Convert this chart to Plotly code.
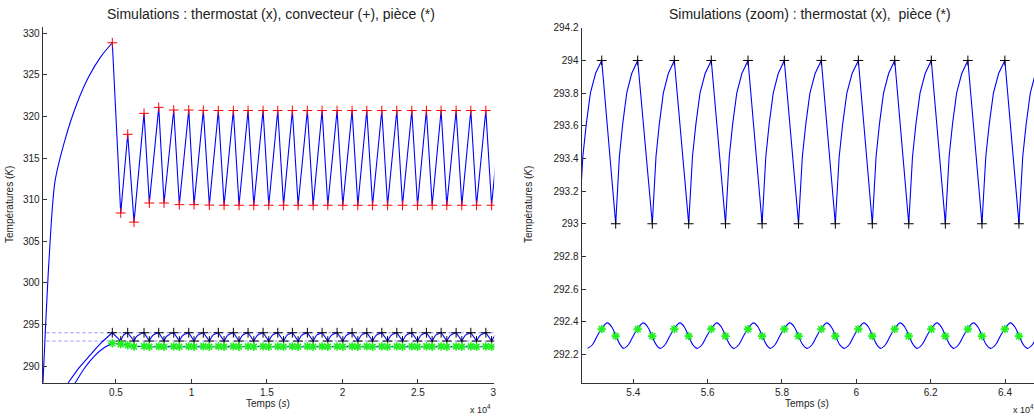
import plotly.graph_objects as go

W, H = 1034, 417

# ---------------- Left plot ----------------
# switching instants (s): thermostat reaches 294 K (heater off) / 293 K (heater on)
left_peak_t = [4757, 5778, 6858, 7832, 8826, 9820, 10787, 11781, 12775, 13749, 14743,
               15717, 16684, 17678, 18652, 19646, 20640, 21614, 22608, 23602, 24596,
               25563, 26537, 27531, 28505, 29499, 30492]
left_trough_t = [5314, 6195, 7209, 8183, 9197, 10171, 11185, 12160, 13150, 14130, 15120,
                 16100, 17065, 18060, 19030, 20025, 21020, 21995, 22990, 23980, 24975,
                 25945, 26915, 27910, 28885, 29880]
# convector temperature at those instants (K)
conv_peak_T = [328.87, 317.86, 320.38, 321.10, 320.78, 320.78, 320.74, 320.72, 320.72,
               320.72, 320.72, 320.72, 320.72, 320.72, 320.72, 320.72, 320.72, 320.72,
               320.72, 320.72, 320.72, 320.72, 320.72, 320.72, 320.72, 320.72, 320.72]
conv_trough_T = [308.40, 307.30, 309.60, 309.60, 309.40, 309.40, 309.35, 309.33, 309.33,
                 309.33, 309.33, 309.33, 309.33, 309.33, 309.33, 309.33, 309.33, 309.33,
                 309.33, 309.33, 309.33, 309.33, 309.33, 309.33, 309.33, 309.33]
# room temperature at those instants (K)
room_peak_T = [292.73, 292.50, 292.38, 292.36, 292.36, 292.36, 292.36, 292.36, 292.36,
               292.36, 292.36, 292.36, 292.36, 292.36, 292.36, 292.36, 292.36, 292.36,
               292.36, 292.36, 292.36, 292.36, 292.36, 292.36, 292.36, 292.36, 292.36]
room_trough_T = [292.63, 292.34, 292.31, 292.31, 292.31, 292.31, 292.31, 292.31, 292.31,
                 292.31, 292.31, 292.31, 292.31, 292.31, 292.31, 292.31, 292.31, 292.31,
                 292.31, 292.31, 292.31, 292.31, 292.31, 292.31, 292.31, 292.31]
therm_high = 294.0
therm_low = 293.0

# initial heating (before the first switching)
conv_init_t = [166, 563, 961, 1623, 2400, 3200, 4000]
conv_init_T = [288.0, 302.7, 312.2, 317.2, 321.5, 324.8, 327.2]
therm_init_t = [1820, 2560, 3300, 4030]
therm_init_T = [287.92, 289.8, 291.33, 292.8]
room_init_t = [2286, 2900, 3520, 4140]
room_init_T = [287.92, 289.7, 291.1, 292.1]

# thermostat rise shape within a heating phase (fraction of phase, temperature)
rise_frac = [0.0, 0.076, 0.167, 0.318, 0.5, 0.727, 1.0]
rise_T = [293.0, 293.2, 293.41, 293.61, 293.8, 293.92, 294.0]

# ---------------- Right plot (zoom) ----------------
right_peak_t = [53150, 54118, 55103, 56098, 57086, 58062, 59058, 60055, 61033, 62017,
                63001, 63996, 64985]
right_trough_t = [52540, 53526, 54511, 55490, 56480, 57465, 58445, 59435, 60430, 61410,
                  62395, 63380, 64375]
room_peak_marker_T = 292.355
room_trough_marker_T = 292.312
# room temperature shape around each thermostat peak (offset s, temperature K)
room_dt = [-379, -250, -120, 0, 150, 270, 385, 500]
room_T = [292.237, 292.259, 292.313, 292.358, 292.393, 292.368, 292.312, 292.258]

left_xticks = [5000, 10000, 15000, 20000, 25000, 30000]
left_xtext = ["0.5", "1", "1.5", "2", "2.5", "3"]
left_yticks = [290, 295, 300, 305, 310, 315, 320, 325, 330]
right_xticks = [54000, 56000, 58000, 60000, 62000, 64000]
right_xtext = ["5.4", "5.6", "5.8", "6", "6.2", "6.4"]
right_yticks = [292.2, 292.4, 292.6, 292.8, 293.0, 293.2, 293.4, 293.6, 293.8, 294.0, 294.2]
right_ytext = ["292.2", "292.4", "292.6", "292.8", "293", "293.2", "293.4", "293.6",
               "293.8", "294", "294.2"]

BLUE = "#0000ff"
RED = "#ff0000"
GREEN = "#22ee22"
BLACK = "#000000"
FONT = "Liberation Sans, Arial, Helvetica, sans-serif"

fig = go.Figure()


def line(x, y, ax, ay, **kw):
    fig.add_trace(go.Scatter(x=x, y=y, mode="lines", xaxis=ax, yaxis=ay,
                             showlegend=False, hoverinfo="skip", **kw))


def marks(x, y, ax, ay, symbol, color, size, width):
    fig.add_trace(go.Scatter(x=x, y=y, mode="markers", xaxis=ax, yaxis=ay, showlegend=False,
                             marker=dict(symbol=symbol, size=size, color=color,
                                         line=dict(color=color, width=width))))


# ---- left: dotted thresholds
for lvl in (therm_high, therm_low):
    line([0, 31000], [lvl, lvl], "x", "y",
         line=dict(color="rgba(70,70,255,0.6)", width=1, dash="dot"))

# convector: initial heating (smooth) then switching zigzag
line(conv_init_t + [left_peak_t[0]], conv_init_T + [conv_peak_T[0]], "x", "y",
     line=dict(color=BLUE, width=1.1, shape="spline", smoothing=0.8))
cx, cy = [], []
for i, pk in enumerate(left_peak_t):
    cx.append(pk); cy.append(conv_peak_T[i])
    if i < len(left_trough_t):
        cx.append(left_trough_t[i]); cy.append(conv_trough_T[i])
line(cx, cy, "x", "y", line=dict(color=BLUE, width=1.1))
marks(left_peak_t + left_trough_t, conv_peak_T + conv_trough_T, "x", "y",
      "cross-thin-open", RED, 7, 1.0)

# thermostat (left)
line(therm_init_t + [left_peak_t[0]], therm_init_T + [therm_high], "x", "y",
     line=dict(color=BLUE, width=1.1, shape="spline", smoothing=0.8))
px, py = [left_peak_t[0]], [therm_high]
for i, pk in enumerate(left_peak_t[1:], start=1):
    tr = left_trough_t[i - 1]
    for f, v in zip(rise_frac, rise_T):
        px.append(tr + f * (pk - tr)); py.append(v)
line(px, py, "x", "y", line=dict(color=BLUE, width=1.1))
marks(left_peak_t + left_trough_t,
      [therm_high] * len(left_peak_t) + [therm_low] * len(left_trough_t), "x", "y",
      "cross-thin-open", BLACK, 7, 1.0)

# room (left)
line(room_init_t + [left_peak_t[0]], room_init_T + [room_peak_T[0]], "x", "y",
     line=dict(color=BLUE, width=1.1, shape="spline", smoothing=0.8))
rx, ry = [], []
for i, pk in enumerate(left_peak_t):
    rx.append(pk); ry.append(room_peak_T[i])
    if i < len(left_trough_t):
        rx.append(left_trough_t[i]); ry.append(room_trough_T[i])
line(rx, ry, "x", "y", line=dict(color=BLUE, width=1.1))
marks(left_peak_t + left_trough_t, room_peak_T + room_trough_T, "x", "y",
      "asterisk-open", GREEN, 7, 1.6)

# ---- right: thermostat
qx, qy = [], []
for i, pk in enumerate(right_peak_t):
    tr = right_trough_t[i]
    for f, v in zip(rise_frac, rise_T):
        qx.append(tr + f * (pk - tr)); qy.append(v)
line(qx, qy, "x2", "y2", line=dict(color=BLUE, width=1.1))
vis_troughs = right_trough_t[1:]  # first one lies just before the visible window
marks(right_peak_t + vis_troughs,
      [therm_high] * len(right_peak_t) + [therm_low] * len(vis_troughs), "x2", "y2",
      "cross-thin-open", BLACK, 7, 1.0)

# right: room
sx, sy = [], []
for pk in right_peak_t:
    for d, v in zip(room_dt, room_T):
        sx.append(pk + d); sy.append(v)
line(sx, sy, "x2", "y2", line=dict(color=BLUE, width=1.1, shape="spline"))
marks(right_peak_t + vis_troughs,
      [room_peak_marker_T] * len(right_peak_t) + [room_trough_marker_T] * len(vis_troughs),
      "x2", "y2", "asterisk-open", GREEN, 7, 1.6)

axis_common = dict(showline=True, linecolor="#333333", linewidth=1, ticks="inside",
                   ticklen=4, tickcolor="#333333", showgrid=False, zeroline=False,
                   tickfont=dict(family=FONT, size=10, color="#222222"), mirror=False)

fig.update_layout(
    width=W, height=H, paper_bgcolor="white", plot_bgcolor="white",
    margin=dict(l=0, r=0, t=0, b=0, autoexpand=False),
    xaxis=dict(domain=[42.7 / W, 494.3 / W], range=[146, 30060], tickmode="array",
               tickvals=left_xticks, ticktext=left_xtext, anchor="y", **axis_common),
    yaxis=dict(domain=[(H - 383.3) / H, (H - 26.7) / H], range=[287.92, 330.8], tickmode="array",
               tickvals=left_yticks, anchor="x", **axis_common),
    xaxis2=dict(domain=[581.5 / W, 1.0], range=[52606, 64780], tickmode="array",
                tickvals=right_xticks, ticktext=right_xtext, anchor="y2", **axis_common),
    yaxis2=dict(domain=[(H - 383.3) / H, (H - 27.8) / H], range=[292.023, 294.2], tickmode="array",
                tickvals=right_yticks, ticktext=right_ytext, anchor="x2", **axis_common),
)

ann = []


def add_text(text, xpx, ypx, size, xanchor="center", angle=0):
    ann.append(dict(text=text, x=xpx / W, y=(H - ypx) / H, xref="paper", yref="paper",
                    showarrow=False, xanchor=xanchor, yanchor="middle", textangle=angle,
                    font=dict(family=FONT, size=size, color="#222222")))


add_text("Simulations : thermostat (x), convecteur (+), pièce (*)", 271, 14, 14)
add_text("Simulations (zoom) : thermostat (x),\u00a0 pièce (*)", 810, 14, 14)
add_text("Temps (<i>s</i>)", 268, 403, 10)
add_text("Temps (<i>s</i>)", 807, 403, 10)
add_text("x 10<sup>4</sup>", 493, 409, 9, xanchor="right")
add_text("x 10<sup>4</sup>", 1011, 409, 9, xanchor="left")
add_text("Températures (<i>K</i>)", 9, 205, 10, angle=-90)
add_text("Températures (<i>K</i>)", 528, 205, 10, angle=-90)
fig.update_layout(annotations=ann)

fig.write_html("out.html", config={"displayModeBar": False},
               post_script="document.body.style.margin='0';document.body.style.overflow='hidden';")
